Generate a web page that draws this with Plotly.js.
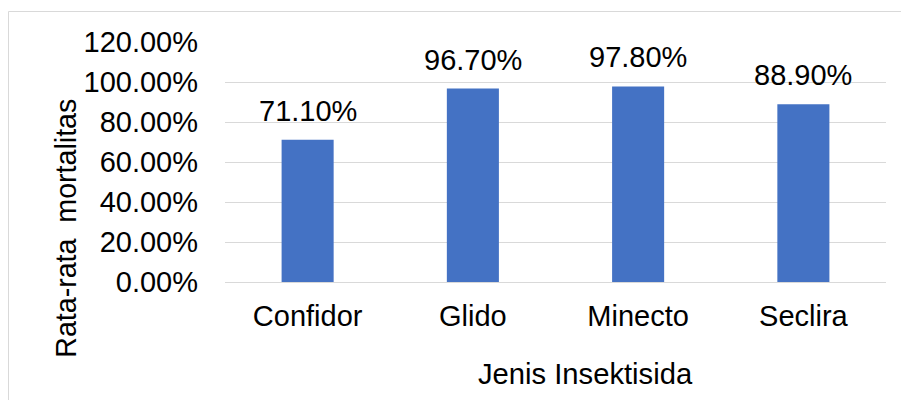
<!DOCTYPE html>
<html>
<head>
<meta charset="utf-8">
<script src="https://cdn.plot.ly/plotly-3.0.1.min.js"></script>
<style>html,body{margin:0;padding:0;background:#fff;}#chart{width:901px;height:400px;}</style>
</head>
<body>
<div id="chart"></div>
<script>
const categories = ["Confidor", "Glido", "Minecto", "Seclira"];
const mortality = [0.711, 0.967, 0.978, 0.889];
const dataLabels = ["71.10%", "96.70%", "97.80%", "88.90%"];
const yTickVals = [0, 0.2, 0.4, 0.6, 0.8, 1.0, 1.2];
const yTickText = ["0.00%", "20.00%", "40.00%", "60.00%", "80.00%", "100.00%", "120.00%"];
const xTitle = "Jenis Insektisida";
const yTitle = "Rata-rata  mortalitas";

const FONT = "'Liberation Sans', Arial, sans-serif";

const trace = {
  type: "bar",
  x: categories,
  y: mortality,
  marker: {color: "#4472C4", line: {width: 0}},
  hoverinfo: "skip"
};

const annotations = categories.map((c, i) => ({
  x: c, y: mortality[i], xref: "x", yref: "y",
  text: dataLabels[i], showarrow: false,
  yanchor: "bottom", yshift: 11,
  font: {family: FONT, size: 29, color: "#000"}
}));

annotations.push({
  xref: "paper", yref: "paper", x: 0.546, y: -0.384,
  text: xTitle, showarrow: false, xanchor: "center", yanchor: "middle",
  font: {family: FONT, size: 29.2, color: "#000"}
});
annotations.push({
  xref: "paper", yref: "paper", x: -0.2405, y: 0.222,
  text: yTitle, showarrow: false, textangle: -90, xanchor: "center", yanchor: "middle",
  font: {family: FONT, size: 28.6, color: "#000"}
});

const layout = {
  width: 901, height: 400,
  margin: {l: 225, r: 15, t: 42, b: 118, pad: 0},
  paper_bgcolor: "#fff", plot_bgcolor: "#fff",
  bargap: 0.685,
  showlegend: false,
  font: {family: FONT, size: 29, color: "#000"},
  xaxis: {
    type: "category",
    showgrid: false, zeroline: false,
    showline: false, ticks: "",
    tickfont: {family: FONT, size: 29, color: "#000"},
    ticklabelstandoff: 14,
    fixedrange: true
  },
  yaxis: {
    range: [0, 1.2],
    tickvals: yTickVals, ticktext: yTickText,
    showgrid: true, gridcolor: "#d9d9d9", gridwidth: 1,
    zeroline: true, zerolinecolor: "#d9d9d9", zerolinewidth: 1,
    showline: false, ticks: "",
    tickfont: {family: FONT, size: 29, color: "#000"},
    ticklabelstandoff: 26,
    fixedrange: true
  },
  annotations: annotations,
  shapes: [{
    type: "rect", xref: "paper", yref: "paper",
    x0: (8.5 - 225) / 661, x1: (905 - 225) / 661,
    y0: (282 - 405) / 240, y1: 1 + (42 - 11.5) / 240,
    line: {color: "#d9d9d9", width: 1}, fillcolor: "rgba(0,0,0,0)", layer: "below"
  }]
};

Plotly.newPlot("chart", [trace], layout, {displayModeBar: false, staticPlot: true});
</script>
</body>
</html>
